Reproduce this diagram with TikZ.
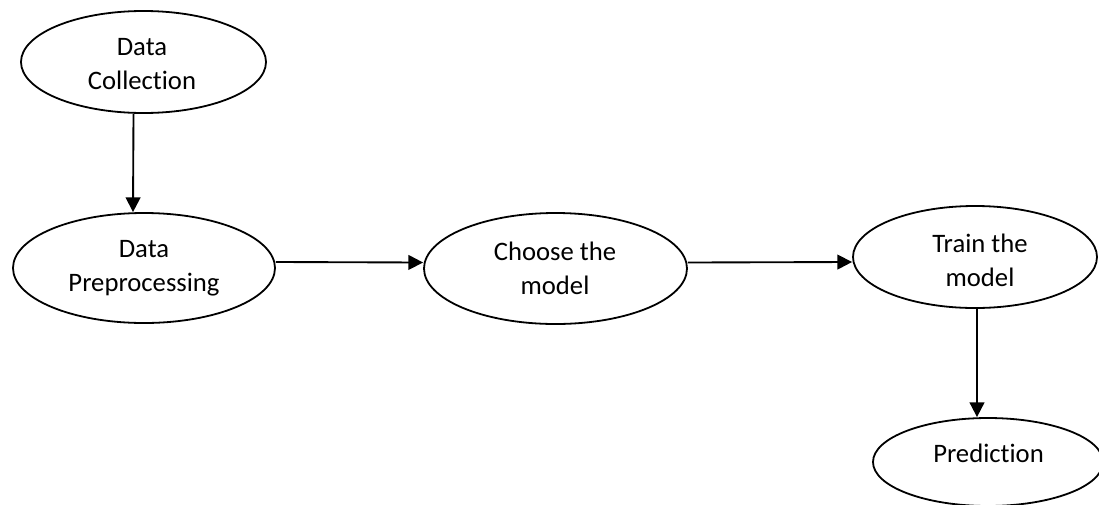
\documentclass[tikz,border=0pt]{standalone}
\usepackage{fontspec}
\setmainfont{Carlito}[Ligatures=NoCommon]
\usetikzlibrary{shapes.geometric,arrows.meta}
\begin{document}
\begin{tikzpicture}[x=0.75pt,y=-0.75pt,
  stage/.style={ellipse,draw,line width=1.35pt,inner sep=0pt},
  lbl/.style={inner sep=0pt,align=center,font=\fontsize{20}{25.5}\selectfont},
  flow/.style={line width=1.4pt,-{Triangle[length=11pt,width=11pt]}}]
\useasboundingbox (0,0) rectangle (1099,504);
% ellipses
\node[stage,minimum width=183.75pt,minimum height=76.5pt] (dc) at (143.5,62) {};
\node[stage,minimum width=196.5pt,minimum height=82.5pt] (dp) at (144,268) {};
\node[stage,minimum width=197.25pt,minimum height=83.25pt] (cm) at (555.5,268.5) {};
\node[stage,minimum width=183pt,minimum height=76.5pt] (tm) at (975,257) {};
\node[stage,minimum width=172.5pt,minimum height=66pt] (pr) at (988,462) {};
% texts
\node[lbl] (dct) at (142,64.5) {Data\\Collection};
\node[lbl] (dpt) at (144,268.5) {Data\\Preprocessing};
\node[lbl] (cmt) at (555,268.5) {Choose the\\model};
\node[lbl] (tmt) at (980,260.5) {Train the\\model};
\node[lbl] (prt) at (988.5,453) {Prediction};
% connectors
\draw[flow] ([xshift=-7.5pt]dc.south) -- ([xshift=-8.25pt]dp.north);
\draw[flow] ([yshift=4.5pt]dp.east) -- ([yshift=4.5pt]cm.west);
\draw[flow] ([yshift=4.5pt]cm.east) -- ([yshift=-3.75pt]tm.west);
\draw[flow] ([xshift=1.5pt]tm.south) -- ([xshift=-8.25pt]pr.north);
\end{tikzpicture}
\end{document}
